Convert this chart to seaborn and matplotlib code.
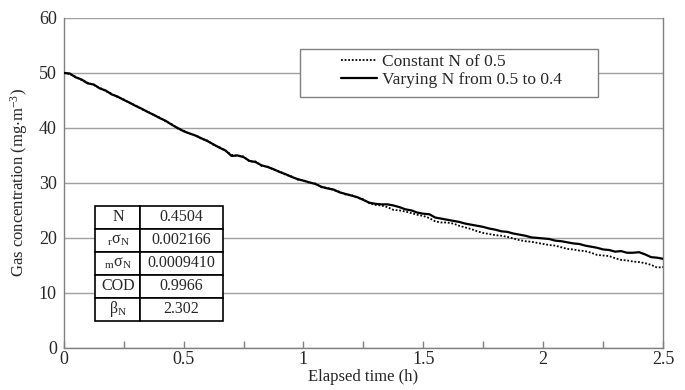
import numpy as np
import pandas as pd
import matplotlib
matplotlib.use("Agg")
import matplotlib.pyplot as plt
from matplotlib.patches import Rectangle
from matplotlib.ticker import MultipleLocator
import seaborn as sns

# Tempo (h), passo de 0.025 h
tempo = [round(i * 0.025, 3) for i in range(101)]

# Concentração com N variando de 0.5 a 0.4
varia_n = [
    50.0, 49.9, 49.2, 48.8, 48.1, 47.9, 47.2, 46.8, 46.1, 45.7,
    45.1, 44.6, 44.0, 43.5, 42.9, 42.4, 41.8, 41.3, 40.6, 40.0,
    39.4, 39.0, 38.6, 38.1, 37.6, 37.0, 36.4, 35.9, 34.9, 35.0,
    34.7, 34.0, 33.8, 33.2, 32.9, 32.5, 32.0, 31.6, 31.1, 30.7,
    30.4, 30.1, 29.8, 29.3, 29.0, 28.8, 28.3, 28.0, 27.7, 27.4,
    26.9, 26.4, 26.2, 26.1, 26.1, 25.9, 25.6, 25.2, 25.0, 24.6,
    24.4, 24.3, 23.7, 23.5, 23.3, 23.1, 22.9, 22.6, 22.4, 22.2,
    22.0, 21.7, 21.5, 21.2, 21.1, 20.8, 20.6, 20.4, 20.1, 20.0,
    19.9, 19.8, 19.5, 19.4, 19.2, 19.0, 18.9, 18.6, 18.4, 18.2,
    17.9, 17.8, 17.5, 17.6, 17.3, 17.3, 17.4, 17.0, 16.5, 16.4,
    16.2,
]

# Concentração com N constante de 0.5
const_n = [
    50.0, 49.8, 49.3, 48.7, 48.2, 47.8, 47.3, 46.7, 46.2, 45.6,
    45.2, 44.5, 44.1, 43.4, 43.0, 42.3, 41.9, 41.2, 40.7, 39.9,
    39.5, 38.9, 38.7, 38.0, 37.7, 36.9, 36.5, 35.8, 35.1, 34.9,
    34.8, 33.9, 33.9, 33.1, 33.0, 32.4, 32.1, 31.5, 31.2, 30.6,
    30.5, 30.0, 29.9, 29.2, 29.1, 28.7, 28.4, 27.9, 27.8, 27.3,
    27.0, 26.3, 26.0, 25.9, 25.6, 25.1, 25.0, 24.8, 24.5, 24.2,
    24.0, 23.6, 23.0, 22.8, 22.8, 22.6, 22.2, 21.9, 21.6, 21.2,
    20.9, 20.7, 20.5, 20.4, 20.2, 19.9, 19.6, 19.4, 19.3, 19.1,
    18.9, 18.7, 18.6, 18.3, 18.0, 17.9, 17.7, 17.6, 17.3, 16.9,
    16.8, 16.7, 16.3, 16.0, 15.9, 15.7, 15.6, 15.4, 15.1, 14.6,
    14.7,
]

# Tabela de parâmetros
param_nomes = [r"N", r"${}_{\mathrm{r}}\sigma_{\mathrm{N}}$",
               r"${}_{\mathrm{m}}\sigma_{\mathrm{N}}$", r"COD",
               r"$\beta_{\mathrm{N}}$"]
param_valores = ["0.4504", "0.002166", "0.0009410", "0.9966", "2.302"]

sns.set_theme(style="white")
plt.rcParams["font.family"] = ["Liberation Serif", "DejaVu Serif"]
plt.rcParams["mathtext.fontset"] = "custom"
plt.rcParams["mathtext.rm"] = "Liberation Serif"
plt.rcParams["mathtext.it"] = "Liberation Serif:italic"
plt.rcParams["mathtext.default"] = "regular"

fig = plt.figure(figsize=(6.85, 3.9), dpi=100)
ax = fig.add_axes([0.093, 0.108, 0.875, 0.846])

ax.yaxis.grid(True, color="#a0a0a0", linewidth=1.0)
ax.set_axisbelow(True)

sns.lineplot(x=tempo, y=const_n, ax=ax, color="black", linestyle=(0, (1, 1)),
             linewidth=1.3, label="Constant N of 0.5", zorder=4)
sns.lineplot(x=tempo, y=varia_n, ax=ax, color="black", linewidth=1.6,
             label="Varying N from 0.5 to 0.4", zorder=5)

ax.set_xlim(0, 2.5)
ax.set_ylim(0, 60)
ax.xaxis.set_major_locator(MultipleLocator(0.5))
ax.xaxis.set_minor_locator(MultipleLocator(0.25))
ax.yaxis.set_major_locator(MultipleLocator(10))
ax.set_xticks([0, 0.5, 1, 1.5, 2, 2.5])
ax.set_xticklabels(["0", "0.5", "1", "1.5", "2", "2.5"])
ax.tick_params(axis="x", which="both", direction="in", length=5, width=1,
               color="#808080", labelsize=13, pad=2, bottom=True)
ax.tick_params(axis="y", length=0, labelsize=13, pad=5)

for lado in ["left", "bottom", "right"]:
    ax.spines[lado].set_color("#808080")
    ax.spines[lado].set_linewidth(1.0)
ax.spines["top"].set_visible(False)

ax.set_xlabel("Elapsed time (h)", fontsize=12, labelpad=1)
ax.set_ylabel(r"Gas concentration (mg$\cdot$m$^{-3}$)", fontsize=12, labelpad=6)

# Caixa da legenda
ax.add_patch(Rectangle((0.394, 0.76), 0.497, 0.146, transform=ax.transAxes,
                       facecolor="white", edgecolor="#808080", linewidth=1.0,
                       zorder=3))
leg = ax.legend(loc="upper left", bbox_to_anchor=(0.462, 0.892), frameon=False,
                fontsize=12.5, handlelength=2.1, handletextpad=0.3,
                labelspacing=0.15, borderpad=0, borderaxespad=0)
leg.set_zorder(6)

# Tabela
tab = ax.table(cellText=[[n, v] for n, v in zip(param_nomes, param_valores)],
               cellLoc="center", colWidths=[0.354, 0.646],
               bbox=[0.053, 0.082, 0.212, 0.348])
tab.auto_set_font_size(False)
tab.set_fontsize(11.5)
for cel in tab.get_celld().values():
    cel.set_edgecolor("black")
    cel.set_linewidth(1.2)
    cel.set_facecolor("white")
tab.set_zorder(6)

plt.savefig("out.png", dpi=100)
plt.close()
